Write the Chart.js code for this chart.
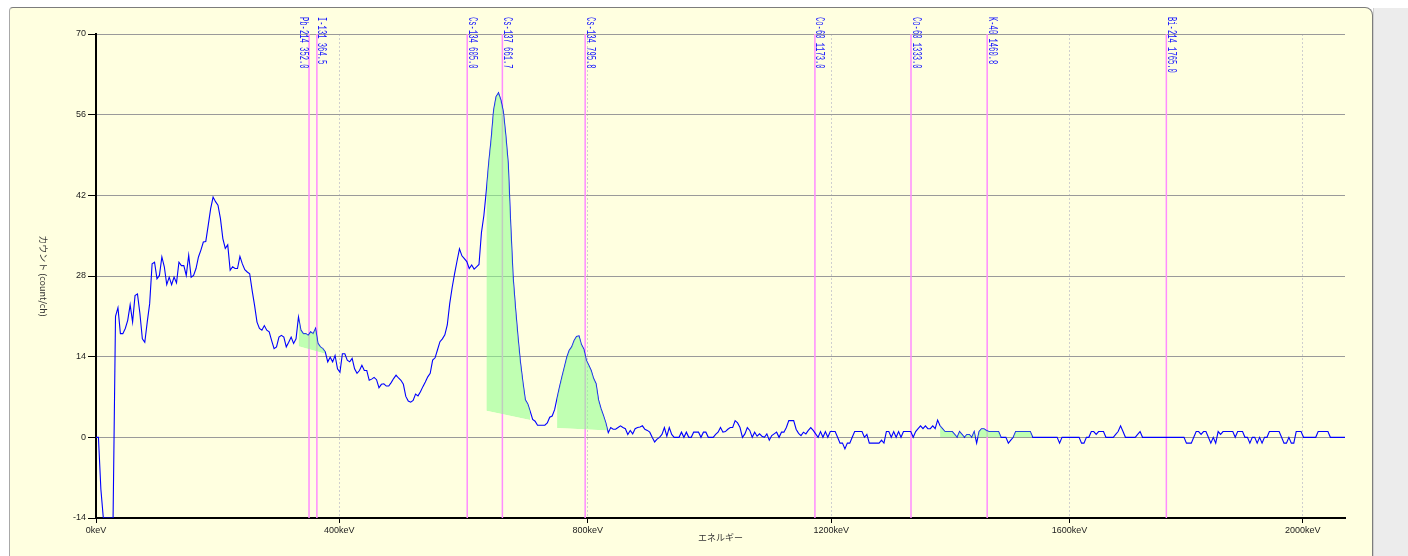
<!DOCTYPE html>
<html>
<head>
<meta charset="utf-8">
<script src="https://cdn.jsdelivr.net/npm/chart.js@4.4.0/dist/chart.umd.min.js"></script>
<style>
  html, body { margin: 0; padding: 0; background: #fff; overflow: hidden; }
  #panel { position: absolute; left: 9px; top: 7px; width: 1362px; height: 600px;
           background: #ffffe0; border: 1px solid #7c7c7c; border-left-color: #a8a8a8;
           border-radius: 4px 8px 0 0; }
  #side { position: absolute; left: 1373px; top: 8px; width: 35px; height: 560px;
          background: #ececec; border-left: 1px solid #cfcfcf; }
  #wrap { position: absolute; left: 0; top: 0; width: 1408px; height: 556px; }
</style>
</head>
<body>
<div id="panel"></div>
<div id="side"></div>
<div id="wrap"><canvas id="spectrum" width="1408" height="556"></canvas></div>
<script>
"use strict";

/*----------------------------------------*/
/*  data
/*----------------------------------------*/
// counts per channel, one value every 2 channels (ch 0 .. 1024)
var counts = [
  0, 0, -9, -14, -14, -14, -14, -14, 21, 22.5,
  18, 18, 18.9, 20.3, 23, 20, 24.6, 24.9, 21.5, 17.1,
  16.5, 20, 23.2, 30.1, 30.4, 27.5, 28.1, 31.3, 29.6, 26.5,
  27.8, 26.5, 27.8, 26.8, 30.4, 29.8, 29.8, 28.1, 31.6, 27.8,
  28.1, 29.3, 31.3, 32.5, 33.9, 34, 36.8, 39.7, 41.7, 40.9,
  40.3, 38, 34.5, 32.8, 33.4, 29, 29.6, 29.3, 29.3, 31.4,
  30.1, 29.1, 28.7, 28.4, 25.5, 22.9, 20, 18.9, 18.6, 19.4,
  18.6, 18.3, 16.8, 15.4, 15.7, 17.4, 17.7, 17.4, 15.7, 16.5,
  17.4, 16.3, 17.1, 20.9, 18.6, 18, 18, 17.7, 18.3, 18,
  18.9, 16.3, 15.7, 15.4, 14.8, 13.1, 13.9, 13.1, 14.2, 11.9,
  11.3, 14.5, 14.5, 13.4, 13.1, 13.7, 11.9, 11.1, 11.6, 12.5,
  11.6, 11.6, 9.9, 10.1, 10.4, 10, 8.6, 9.2, 9.3, 8.9,
  8.9, 9.5, 10.2, 10.8, 10.3, 9.9, 9.2, 7.1, 6.3, 6.1,
  6.4, 7.5, 7.2, 7.9, 8.8, 9.6, 10.5, 11.1, 13.4, 13.8,
  15.2, 16.6, 17.1, 17.8, 19.5, 23.2, 26, 28.4, 30.6, 32.7,
  31.5, 31, 30.5, 29.3, 29.9, 29.2, 29.6, 30, 35.5, 38.5,
  42.8, 47.7, 51.8, 56.8, 59.1, 59.8, 58.5, 56.5, 52.4, 47.5,
  37, 27.8, 22.3, 17.4, 13, 9.6, 6.5, 5.8, 4.5, 3.1,
  2.8, 2.1, 2.1, 2.1, 2.1, 2.5, 3.5, 3.7, 4.8, 6.8,
  8.7, 10.5, 12.2, 13.9, 15.1, 15.7, 16.8, 17.5, 17.6, 16.1,
  15.3, 13.4, 12.5, 11.6, 10.2, 9.3, 6.5, 5, 3.8, 2.5,
  0.8, 1.7, 1.4, 1.4, 1.7, 2, 1.7, 1.5, 0.5, 1.2,
  0.6, 1.5, 1.7, 1.8, 2, 1.4, 1.2, 0.9, 0, -0.8,
  -0.3, 0, 0.5, 1.7, 0.2, 1.7, 0.5, 0, 0, 0,
  0.9, 0, 0.9, 0, 0, 0.9, 0.9, 0.9, 0, 0.9,
  0.9, 0, 0, 0, 0.5, 0.9, 1.7, 0.9, 1, 1.4,
  1.7, 1.7, 2.9, 2.5, 1.7, 0, 0.6, 1.7, 1.2, 0,
  0.9, 0.2, 0.6, 0.2, 0, 0.6, -0.5, 0.3, 0.6, 0.9,
  0, 0.9, 0.9, 1.7, 2.9, 2.9, 2.9, 1.4, 0.7, 0.3,
  0.9, 0.6, 1.2, 1.7, 1.2, 0.6, 0, 1, 0, 1,
  0, 1, 1, 1, 0, -1, -1, -2, -1, -1,
  0, 1, 1, 1, 1, 0, 0.5, -1, -1, -1,
  -1, -1, -0.5, -1, 1, 1, 0, 1, 0, 1,
  0, 1, 1, 1, 1, 0, 1, 1.5, 2, 1.5,
  2, 1.5, 1.5, 2, 1.5, 3, 2, 1.5, 1, 1,
  1, 1, 0.5, 0, 1, 0.5, 0, 0.5, 0.5, 0,
  1, -1, 1, 1.5, 1.5, 1.2, 1, 1, 1, 1,
  1, 0, 0, 0, -1, -0.5, 0, 1, 1, 1,
  1, 1, 1, 1, 0, 0, 0, 0, 0, 0,
  0, 0, 0, 0, 0, -1, 0, 0, 0, 0,
  0, 0, 0, 0, -1, -1, 0, 0, 1, 1,
  0.5, 1, 1, 1, 0, 0, 0, 0, 0.5, 1,
  2, 1, 0, 0, 0, 0, 0, 0.5, 1, 0,
  0, 0, 0, 0, 0, 0, 0, 0, 0, 0,
  0, 0, 0, 0, 0, 0, 0, -1, -1, -1,
  0, 1, 1, 0.5, 1, 1, 0, -1, 0, -1,
  1, 0.5, 1, 1, 1, 1, 1, 0, 1, 1,
  1, 0, 0, -1, 0, 0, -1, 0, -1, 0,
  0, 1, 1, 1, 1, 1, 0, -1, -1, 0,
  -1, -1, 1, 1, 1, 0, 0, 0, 0, 0,
  0, 1, 1, 1, 1, 1, 0, 0, 0, 0,
  0, 0, 0
];
var chStep = 2;

// nuclide lines
var nuclideNames = ["Pb-214", "I-131", "Cs-134", "Cs-137", "Cs-134", "Co-60", "Co-60", "K-40", "Bi-214"];
var nuclideKeV = [352.0, 364.5, 605.0, 661.7, 795.8, 1173.0, 1333.0, 1460.8, 1765.0];

// peak regions (index into counts) and their baseline ends
var roiFrom = [83, 160, 189, 346];
var roiTo = [94, 178, 210, 384];
var roiBaseFrom = [15.8, 4.6, 1.6, 0];
var roiBaseTo = [14.5, 3.0, 1.2, 0];

var xTickKeV = [0, 400, 800, 1200, 1600, 2000];
var yMin = -14, yMax = 70, yStep = 14;

// energy calibration keV -> channel
var cal = [-8.574, 0.52513, -1.3079e-5];
function keVToCh(e) {
  return cal[0] + cal[1] * e + cal[2] * e * e;
}

/*----------------------------------------*/
/*  datasets
/*----------------------------------------*/
var spectrumPts = counts.map(function (v, i) { return { x: i * chStep, y: v }; });

var datasets = [{
  label: "spectrum",
  data: spectrumPts,
  borderColor: "rgb(0,0,255)",
  borderWidth: 1.1,
  pointRadius: 0,
  fill: false,
  order: 2
}];

for (var r = 0; r < roiFrom.length; r++) {
  var baseIdx = datasets.length + 1;
  datasets.push({
    label: "roi" + r,
    data: spectrumPts.slice(roiFrom[r], roiTo[r] + 1),
    borderWidth: 0,
    borderColor: "rgba(0,0,0,0)",
    pointRadius: 0,
    fill: { target: baseIdx, above: "rgba(140,255,140,0.55)", below: "rgba(0,0,0,0)" },
    order: 0
  });
  datasets.push({
    label: "base" + r,
    data: [{ x: roiFrom[r] * chStep, y: roiBaseFrom[r] }, { x: roiTo[r] * chStep, y: roiBaseTo[r] }],
    borderWidth: 0,
    borderColor: "rgba(0,0,0,0)",
    pointRadius: 0,
    fill: false,
    order: 3
  });
}

/*----------------------------------------*/
/*  nuclide lines, labels, axis titles
/*----------------------------------------*/
var markers = {
  id: "markers",
  beforeDatasetsDraw: function (chart) {
    var ctx = chart.ctx, area = chart.chartArea, xs = chart.scales.x;
    ctx.save();
    ctx.strokeStyle = "rgb(255,140,255)";
    ctx.lineWidth = 1.5;
    for (var i = 0; i < nuclideKeV.length; i++) {
      var px = xs.getPixelForValue(keVToCh(nuclideKeV[i]));
      ctx.beginPath();
      ctx.moveTo(px, area.top);
      ctx.lineTo(px, area.bottom);
      ctx.stroke();
    }
    ctx.restore();
  },
  afterDraw: function (chart) {
    var ctx = chart.ctx, area = chart.chartArea, xs = chart.scales.x;
    var cap = 8;
    ctx.save();
    ctx.font = '12px "Liberation Mono"';
    ctx.fillStyle = "rgb(20,20,255)";
    ctx.textBaseline = "alphabetic";
    for (var i = 0; i < nuclideKeV.length; i++) {
      var px = xs.getPixelForValue(keVToCh(nuclideKeV[i]));
      var next = i + 1 < nuclideKeV.length ? xs.getPixelForValue(keVToCh(nuclideKeV[i + 1])) : 1e9;
      var txt = nuclideNames[i] + " " + nuclideKeV[i].toFixed(1);
      var w = ctx.measureText(txt).width;
      ctx.save();
      if (next - px < 12) {
        ctx.translate(px - 1.5 - cap, 17);
      } else {
        ctx.translate(px + 1.5, 17);
      }
      ctx.rotate(Math.PI / 2);
      ctx.scale(txt.length * 4.3 / w, 1);
      ctx.fillText(txt, 0, 0);
      ctx.restore();
    }

    ctx.fillStyle = "#333";
    ctx.font = '9px "Noto Sans CJK JP"';
    ctx.textAlign = "center";
    ctx.textBaseline = "middle";
    ctx.fillText("エネルギー", (area.left + area.right) / 2, 538);

    ctx.translate(43, (area.top + area.bottom) / 2);
    ctx.rotate(Math.PI / 2);
    ctx.fillText("カウント (count/ch)", 0, 0);
    ctx.restore();
  }
};

var ctx = document.getElementById("spectrum");
var spectrumChart = new Chart(ctx, {
  type: "line",
  data: { datasets: datasets },
  plugins: [markers],
  options: {
    responsive: false,
    animation: false,
    events: [],
    layout: { padding: { left: 0, right: 63, top: 34, bottom: 0 } },
    plugins: {
      legend: { display: false },
      tooltip: { enabled: false }
    },
    scales: {
      x: {
        type: "linear",
        min: 0,
        max: 1024,
        afterBuildTicks: function (scale) {
          scale.ticks = xTickKeV.map(function (e) { return { value: Math.max(0, keVToCh(e)) }; });
        },
        afterFit: function (scale) { scale.height = 38; },
        ticks: {
          autoSkip: false,
          maxRotation: 0,
          padding: 2,
          color: "#222",
          font: { family: "Liberation Sans", size: 9 },
          callback: function (v, i) { return xTickKeV[i] + "keV"; }
        },
        grid: { color: "#cfcfcf", lineWidth: 1, tickLength: 5, tickColor: "#000", tickBorderDash: [] },
        border: { color: "#000", width: 2, dash: [2, 2] }
      },
      y: {
        min: yMin,
        max: yMax,
        afterFit: function (scale) { scale.width = 96; },
        ticks: {
          stepSize: yStep,
          padding: 2,
          color: "#222",
          font: { family: "Liberation Sans", size: 9 }
        },
        grid: { color: "#9a9a9a", lineWidth: 1, tickLength: 8, tickColor: "#000" },
        border: { color: "#000", width: 2 }
      }
    }
  }
});
</script>
</body>
</html>
